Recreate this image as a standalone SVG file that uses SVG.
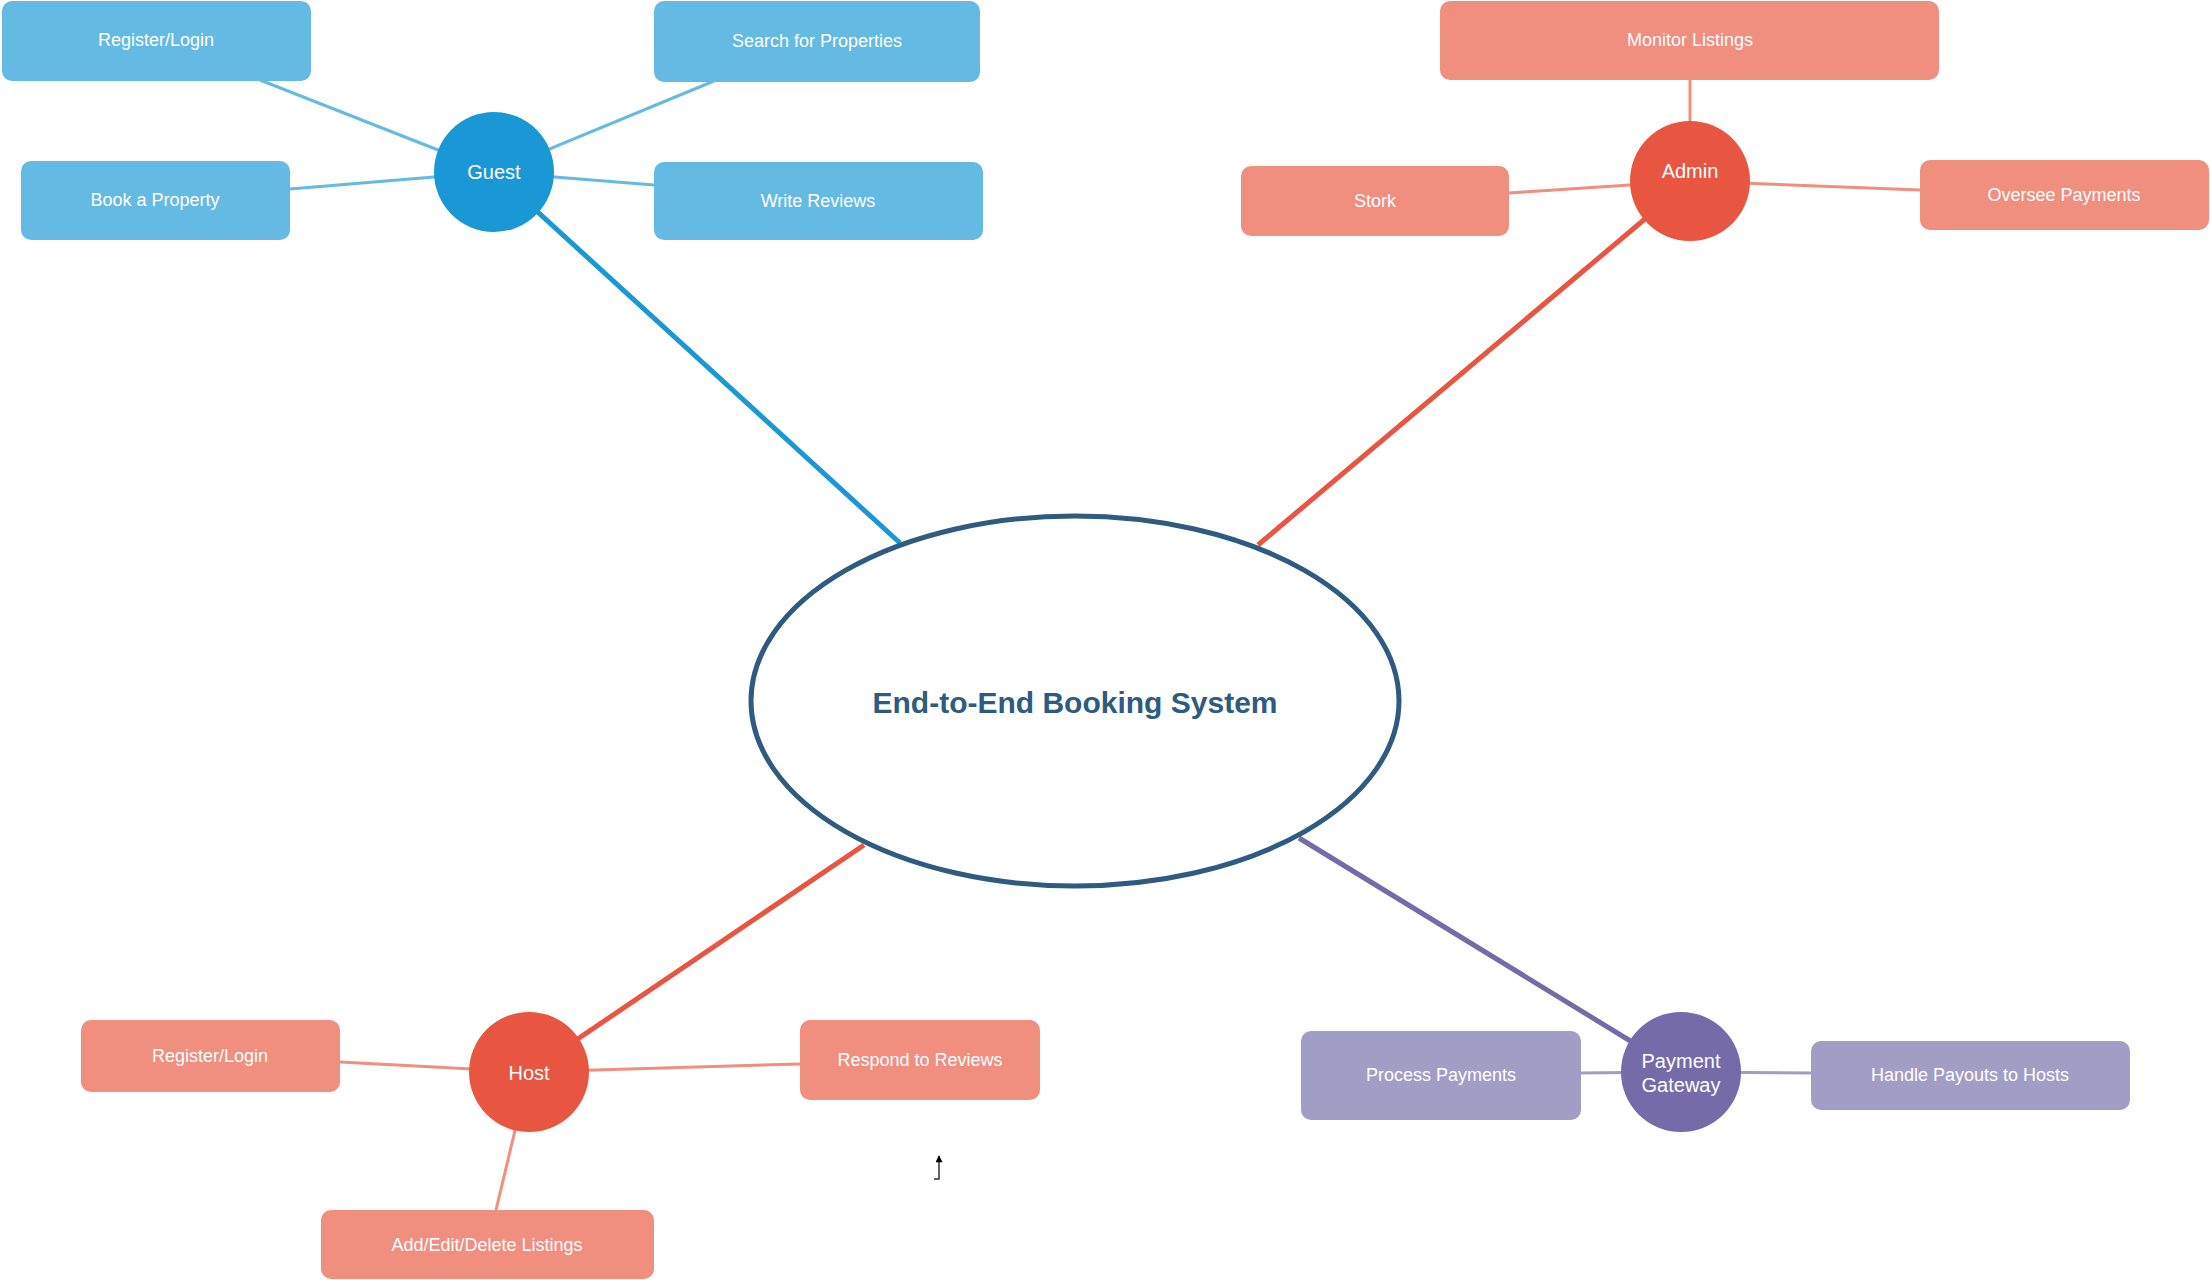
<svg xmlns="http://www.w3.org/2000/svg" width="2210" height="1280" viewBox="0 0 2210 1280">
<style>
text{font-family:"Liberation Sans",Arial,sans-serif;fill:#fff;text-anchor:middle;dominant-baseline:central}
.box{font-size:18px}
.hub{font-size:20px}
.bb{fill:#64BAE2}
.rb{fill:#F08E80}
.pb{fill:#A29DC5}
.lb{stroke:#64BAE2;stroke-width:3;fill:none}
.lr{stroke:#F08E80;stroke-width:3;fill:none}
.lp{stroke:#A29DC5;stroke-width:3;fill:none}
.tb{stroke:#1A98D5;stroke-width:5;fill:none}
.tr{stroke:#E85641;stroke-width:5;fill:none}
.tp{stroke:#746BA8;stroke-width:5;fill:none}
</style>
<defs>
<marker id="ah" viewBox="0 0 10 10" refX="9" refY="5" markerWidth="9" markerHeight="7" markerUnits="userSpaceOnUse" orient="auto">
<path d="M0,0 L10,5 L0,10 Z" fill="#000"/>
</marker>
</defs>
<rect width="2210" height="1280" fill="#fff"/>
<g id="connectors">
<line class="tb" x1="494" y1="172" x2="900" y2="543"/>
<line class="tr" x1="1690" y1="181" x2="1258" y2="545"/>
<line class="tr" x1="529" y1="1072" x2="864" y2="845"/>
<line class="tp" x1="1681" y1="1072" x2="1299" y2="838"/>
<line class="lb" x1="260" y1="80" x2="494" y2="172"/>
<line class="lb" x1="714" y1="81" x2="494" y2="172"/>
<line class="lb" x1="290" y1="189" x2="494" y2="172"/>
<line class="lb" x1="654" y1="185" x2="494" y2="172"/>
<line class="lr" x1="1690" y1="80" x2="1690" y2="181"/>
<line class="lr" x1="1509" y1="193" x2="1690" y2="181"/>
<line class="lr" x1="1920" y1="190" x2="1690" y2="181"/>
<line class="lr" x1="340" y1="1062" x2="529" y2="1072"/>
<line class="lr" x1="800" y1="1064" x2="529" y2="1072"/>
<line class="lr" x1="496" y1="1210" x2="529" y2="1072"/>
<line class="lp" x1="1581" y1="1073" x2="1681" y2="1072"/>
<line class="lp" x1="1811" y1="1073" x2="1681" y2="1072"/>
<polyline points="934,1179 939,1179 939,1156" stroke="#333" stroke-width="1.5" fill="none" marker-end="url(#ah)"/>
</g>
<g id="center">
<ellipse cx="1075" cy="701" rx="324" ry="185" fill="#fff" stroke="#2E5B7F" stroke-width="5"/>
<text x="1075" y="702" style="font-size:30px;font-weight:bold;fill:#2E5B7F">End-to-End Booking System</text>
</g>
<g id="guest">
<circle cx="494" cy="172" r="60" fill="#1A98D5"/>
<text class="hub" x="494" y="172">Guest</text>
</g>
<g id="guest-register">
<rect class="bb" x="2" y="1" width="309" height="80" rx="10"/>
<text class="box" x="156" y="40">Register/Login</text>
</g>
<g id="guest-search">
<rect class="bb" x="654" y="1" width="326" height="81" rx="10"/>
<text class="box" x="817" y="41">Search for Properties</text>
</g>
<g id="guest-book">
<rect class="bb" x="21" y="161" width="269" height="79" rx="10"/>
<text class="box" x="155" y="200">Book a Property</text>
</g>
<g id="guest-reviews">
<rect class="bb" x="654" y="162" width="329" height="78" rx="10"/>
<text class="box" x="818" y="201">Write Reviews</text>
</g>
<g id="admin">
<circle cx="1690" cy="181" r="60" fill="#E85641"/>
<text class="hub" x="1690" y="171">Admin</text>
</g>
<g id="admin-monitor">
<rect class="rb" x="1440" y="1" width="499" height="79" rx="10"/>
<text class="box" x="1690" y="40">Monitor Listings</text>
</g>
<g id="admin-stork">
<rect class="rb" x="1241" y="166" width="268" height="70" rx="10"/>
<text class="box" x="1375" y="201">Stork</text>
</g>
<g id="admin-oversee">
<rect class="rb" x="1920" y="160" width="289" height="70" rx="10"/>
<text class="box" x="2064" y="195">Oversee Payments</text>
</g>
<g id="host">
<circle cx="529" cy="1072" r="60" fill="#E85641"/>
<text class="hub" x="529" y="1073">Host</text>
</g>
<g id="host-register">
<rect class="rb" x="81" y="1020" width="259" height="72" rx="10"/>
<text class="box" x="210" y="1056">Register/Login</text>
</g>
<g id="host-respond">
<rect class="rb" x="800" y="1020" width="240" height="80" rx="10"/>
<text class="box" x="920" y="1060">Respond to Reviews</text>
</g>
<g id="host-listings">
<rect class="rb" x="321" y="1210" width="333" height="69" rx="10"/>
<text class="box" x="487" y="1245">Add/Edit/Delete Listings</text>
</g>
<g id="payment-gateway">
<circle cx="1681" cy="1072" r="60" fill="#746BA8"/>
<text class="hub" x="1681" y="1061">Payment</text>
<text class="hub" x="1681" y="1085">Gateway</text>
</g>
<g id="pg-process">
<rect class="pb" x="1301" y="1031" width="280" height="89" rx="10"/>
<text class="box" x="1441" y="1075">Process Payments</text>
</g>
<g id="pg-payouts">
<rect class="pb" x="1811" y="1041" width="319" height="69" rx="10"/>
<text class="box" x="1970" y="1075">Handle Payouts to Hosts</text>
</g>
</svg>
